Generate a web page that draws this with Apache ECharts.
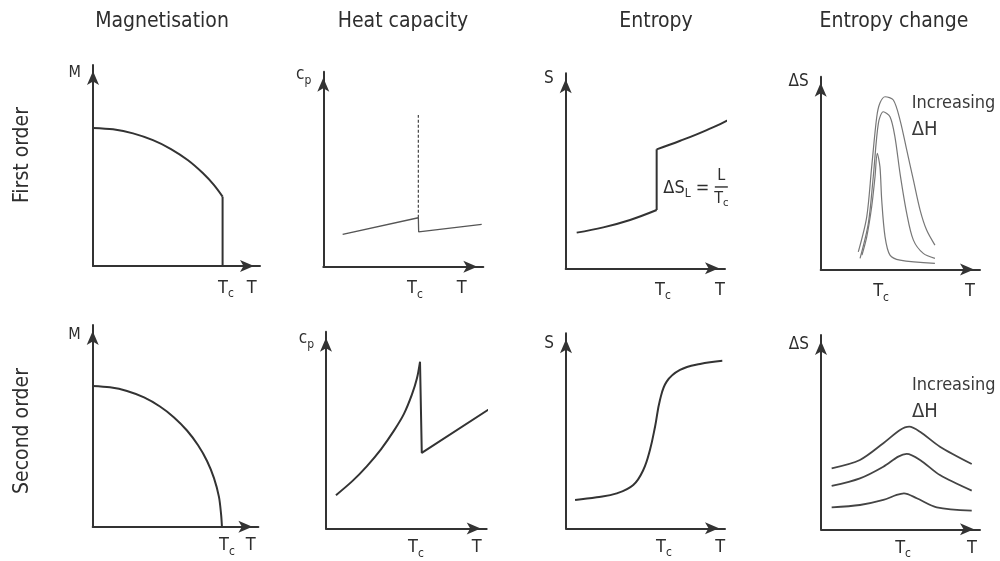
<!DOCTYPE html>
<html>
<head>
<meta charset="utf-8">
<script src="https://cdn.jsdelivr.net/npm/echarts@6/dist/echarts.min.js"></script>
<style>
  html, body { margin: 0; background: #fff; }
  #chart { width: 1000px; height: 561px; }
</style>
</head>
<body>
<div id="chart"></div>
<script>
// headings
const columnTitles = ['Magnetisation', 'Heat capacity', 'Entropy', 'Entropy change'];
const rowTitles = ['First order', 'Second order'];
const yNames = ['{m|M}', '{a|c}{s|p}', '{a|S}', '{d|ΔS}'];

// label positions along each panel axis (0-100 of the axis), panels 1-8
const tcPos = [79.6, 57.3, 61.1, 37.9, 81.0, 56.0, 61.6, 51.6];
const tEndPos = [95.0, 86.5, 96.9, 93.7, 95.4, 93.8, 96.9, 94.9];
const yNamePos = [96.0, 98.3, 97.4, 97.4, 95.0, 96.6, 94.9, 94.9];

// --- first order ---
// magnetisation
const mag1T = [0, 12.0, 24.0, 35.9, 46.7, 56.9, 65.9, 72.5, 77.6];
const mag1M = [68.7, 68.0, 66.0, 62.6, 58.2, 52.6, 46.1, 40.2, 34.5];
const mag1DropT = [77.6, 77.6];
const mag1DropM = [34.5, 0];
// heat capacity
const cp1T = [12.1, 59.4, 59.6, 99.0];
const cp1C = [16.6, 25.1, 17.9, 21.7];
const cp1SpikeT = [59.4, 59.4];
const cp1SpikeC = [25.1, 77.8];
// entropy
const s1LowT = [6.9, 23.6, 40.4, 57.1];
const s1LowS = [18.3, 21.0, 24.8, 29.9];
const s1JumpT = [57.1, 57.1];
const s1JumpS = [29.9, 61.0];
const s1HighT = [57.1, 71.9, 88.5, 103.6, 114.6];
const s1HighS = [61.0, 65.4, 70.9, 76.9, 84.3];
// entropy change, three fields
const ds1aT = [23.6, 28.9, 32.0, 35.2, 37.2, 40.4, 45.6, 49.8, 54.0, 58.2, 62.4, 66.5, 71.7];
const ds1aS = [9.1, 27.3, 53.2, 79.2, 86.3, 89.6, 87.9, 77.5, 62.0, 46.3, 30.8, 20.4, 12.6];
const ds1bT = [24.7, 29.9, 33.0, 36.2, 39.3, 43.5, 46.6, 49.8, 54.0, 58.2, 64.4, 71.7];
const ds1bS = [5.7, 23.9, 48.1, 75.8, 81.8, 79.2, 68.8, 49.8, 29.1, 15.2, 8.3, 5.7];
const ds1cT = [25.9, 28.9, 32.0, 34.1, 35.5, 37.2, 38.3, 40.4, 43.5, 49.8, 71.7];
const ds1cS = [7.4, 16.9, 32.5, 48.1, 60.2, 53.2, 36.0, 16.9, 7.4, 4.8, 3.1];

// --- second order ---
const mag2T = [0, 10.4, 20.7, 31.0, 40.6, 49.1, 56.9, 63.5, 69.0, 73.2, 76.2, 77.5, 78.0];
const mag2M = [69.8, 69.1, 67.3, 64.1, 59.6, 54.2, 47.7, 40.5, 32.6, 24.1, 14.8, 6.0, 0];
const cp2RiseT = [6.2, 16.2, 25.5, 34.2, 42.3, 48.5, 53.5, 56.6, 58.5];
const cp2RiseC = [16.9, 23.9, 31.7, 40.2, 49.7, 58.2, 68.1, 76.3, 84.7];
const cp2FallT = [58.5, 59.6, 103.1];
const cp2FallC = [84.7, 38.4, 61.5];
const s2T = [5.7, 19.3, 31.9, 42.3, 48.6, 52.8, 56.0, 59.1, 63.3, 71.7, 84.3, 98.3];
const s2S = [14.5, 15.9, 17.9, 22.2, 29.9, 40.2, 52.1, 65.8, 75.2, 81.2, 84.3, 85.9];
const ds2T = [6.7, 24.5, 39.2, 49.7, 55.5, 62.3, 74.8, 94.8];
const ds2aS = [31.4, 35.7, 44.3, 51.1, 52.8, 50.2, 42.5, 33.6];
const ds2bT = [6.7, 24.5, 39.2, 48.6, 53.9, 62.3, 74.8, 94.8];
const ds2bS = [22.3, 26.2, 32.2, 37.4, 38.8, 35.7, 27.9, 19.9];
const ds2cT = [6.7, 24.5, 39.2, 47.6, 52.2, 60.2, 72.8, 94.8];
const ds2cS = [11.3, 12.5, 15.1, 17.7, 18.5, 16.0, 11.3, 9.6];

// panel boxes in px: left, top, width, height
const boxes = [
  [93, 65, 167, 201], [323.3, 71.7, 160, 195], [565.7, 73.3, 159.3, 195], [820.7, 76.7, 159.3, 192.7],
  [92.7, 325, 165.7, 201.7], [326, 331.7, 160.7, 196.7], [566, 333.3, 159, 195], [821, 335, 159, 194.3]
];

const FONT = '"DejaVu Sans Condensed", "DejaVu Sans", sans-serif';
const TXT = '#2e2e2e';
const AX = '#333';
const sub = { fontSize: 12, fontFamily: FONT, color: TXT, verticalAlign: 'bottom', lineHeight: 24 };
const nameRich = {
  m: { fontSize: 16, fontFamily: FONT, color: TXT, lineHeight: 24 },
  a: { fontSize: 17, fontFamily: FONT, color: TXT, lineHeight: 24 },
  d: { fontSize: 17, fontFamily: FONT, color: TXT, lineHeight: 24 },
  s: sub
};

const zip = (xs, ys) => xs.map((x, i) => [x, ys[i]]);

const grids = [], xAxes = [], yAxes = [], series = [];
boxes.forEach((b, i) => {
  const row = Math.floor(i / 4);
  grids.push({ left: b[0], top: b[1], width: b[2], height: b[3] });
  const axisLine = {
    show: true, onZero: false,
    lineStyle: { color: AX, width: 2 },
    symbol: ['none', 'arrow'], symbolSize: [9, 14], symbolOffset: [0, -6]
  };
  xAxes.push({
    type: 'value', gridIndex: i, min: 0, max: 100,
    axisLine, splitLine: { show: false }, axisTick: { show: false },
    axisLabel: {
      customValues: [tcPos[i], tEndPos[i]],
      margin: row === 0 ? 10 : 7,
      fontFamily: FONT, fontSize: 18, color: TXT, lineHeight: 24,
      formatter: v => (v === tcPos[i] ? 'T{s|c}' : 'T'),
      rich: { s: sub }
    }
  });
  yAxes.push({
    type: 'value', gridIndex: i, min: 0, max: 100,
    axisLine, splitLine: { show: false }, axisTick: { show: false },
    axisLabel: {
      customValues: [yNamePos[i]],
      margin: 12,
      fontFamily: FONT, fontSize: 17, color: TXT,
      formatter: () => yNames[i % 4],
      rich: nameRich
    }
  });
});

function line(panel, xs, ys, opts) {
  const o = opts || {};
  return {
    type: 'line', xAxisIndex: panel, yAxisIndex: panel,
    data: zip(xs, ys), showSymbol: false, symbol: 'none', clip: false,
    smooth: o.smooth || false, silent: true,
    lineStyle: { color: o.color || '#333', width: o.width || 2, type: o.type || 'solid' },
    markLine: o.markLine, markPoint: o.markPoint
  };
}

function arrowMark(from, to, color) {
  return {
    silent: true, symbol: ['none', 'arrow'], symbolSize: [9, 13],
    lineStyle: { color: color, width: 1.6, type: 'solid' },
    label: { show: false },
    data: [[{ coord: from }, { coord: to }]]
  };
}

function textMark(coord, text, rich) {
  return {
    symbol: 'circle', symbolSize: 0,
    data: [{
      coord: coord,
      label: {
        show: true, position: 'right', distance: 0, formatter: text,
        fontFamily: FONT, color: TXT, fontSize: 18, rich: rich || {}
      }
    }]
  };
}

const increasingRich = {
  a: { fontFamily: FONT, fontSize: 18, color: '#3a3a3a', lineHeight: 27 },
  b: { fontFamily: FONT, fontSize: 20, color: '#3a3a3a', lineHeight: 27 }
};

// panel 1
series.push(line(0, mag1T, mag1M, { smooth: 0.3 }));
series.push(line(0, mag1DropT, mag1DropM));
// panel 2
series.push(line(1, cp1T, cp1C, { color: '#555', width: 1.3 }));
series.push(Object.assign(line(1, cp1SpikeT, cp1SpikeC, { color: '#444', width: 1.2, type: [3, 2] }), {
  data: [[cp1SpikeT[0], cp1SpikeC[0]], {
    value: [cp1SpikeT[1], cp1SpikeC[1]],
    label: { show: true, position: 'top', distance: 1, formatter: '∞', fontSize: 22, fontWeight: 'bold', color: '#333', fontFamily: FONT }
  }]
}));
// panel 3
series.push(line(2, s1LowT, s1LowS, { smooth: 0.4 }));
series.push(line(2, s1JumpT, s1JumpS, {
  markPoint: {
    symbol: 'circle', symbolSize: 0,
    data: [
      { coord: [61.3, 41.2], label: { show: true, position: 'right', distance: 0, formatter: '{a|ΔS}{s|L}{a| =}', rich: { a: { fontFamily: FONT, fontSize: 18, color: TXT, lineHeight: 24 }, s: sub } } },
      { coord: [97.7, 41.2], label: {
        show: true, position: 'inside', align: 'center', verticalAlign: 'middle',
        formatter: '{n|L}\n{bar| }\n{d|T}{s|c}',
        rich: {
          n: { fontFamily: FONT, fontSize: 16, color: TXT, lineHeight: 18, align: 'center' },
          bar: { width: 13, height: 1.4, lineHeight: 4, fontSize: 1, backgroundColor: TXT, align: 'center' },
          d: { fontFamily: FONT, fontSize: 16, color: TXT, lineHeight: 20 },
          s: { fontSize: 11, fontFamily: FONT, color: TXT, verticalAlign: 'bottom', lineHeight: 20 }
        }
      } }
    ]
  }
}));
series.push(line(2, s1HighT, s1HighS, { smooth: 0.4 }));
// panel 4
series.push(line(3, ds1aT, ds1aS, {
  smooth: 0.3, color: '#777', width: 1.2,
  markLine: arrowMark([51.7, 95.6], [108.2, 95.6], '#444'),
  markPoint: textMark([57.2, 79.3], '{a|Increasing}\n{b|ΔH}', increasingRich)
}));
series.push(line(3, ds1bT, ds1bS, { smooth: 0.3, color: '#777', width: 1.2 }));
series.push(line(3, ds1cT, ds1cS, { smooth: 0.3, color: '#777', width: 1.2 }));
// panel 5
series.push(line(4, mag2T, mag2M, { smooth: 0.3 }));
// panel 6
series.push(line(5, cp2RiseT, cp2RiseC, { smooth: 0.3 }));
series.push(line(5, cp2FallT, cp2FallC));
// panel 7
series.push(line(6, s2T, s2S, { smooth: 0.4 }));
// panel 8
series.push(line(7, ds2T, ds2aS, {
  smooth: 0.3, color: '#444', width: 1.8,
  markLine: arrowMark([104.4, 8.4], [104.4, 53.7], '#444'),
  markPoint: textMark([57.2, 67.3], '{a|Increasing}\n{b|ΔH}', increasingRich)
}));
series.push(line(7, ds2bT, ds2bS, { smooth: 0.3, color: '#444', width: 1.8 }));
series.push(line(7, ds2cT, ds2cS, { smooth: 0.3, color: '#444', width: 1.8 }));

const titleXs = [162, 403, 656, 894];
const rowYs = [155, 431];
const graphic = [];
columnTitles.forEach((t, i) => graphic.push({
  type: 'text', x: titleXs[i], y: 22, silent: true,
  style: { text: t, fontFamily: FONT, fontSize: 21, fill: TXT, align: 'center', verticalAlign: 'middle' }
}));
rowTitles.forEach((t, i) => graphic.push({
  type: 'text', x: 23, y: rowYs[i], rotation: Math.PI / 2, silent: true,
  style: { text: t, fontFamily: FONT, fontSize: 21, fill: TXT, align: 'center', verticalAlign: 'middle' }
}));

const chart = echarts.init(document.getElementById('chart'));
chart.setOption({
  animation: false,
  backgroundColor: '#fff',
  grid: grids, xAxis: xAxes, yAxis: yAxes,
  series: series,
  graphic: graphic
});
</script>
</body>
</html>
